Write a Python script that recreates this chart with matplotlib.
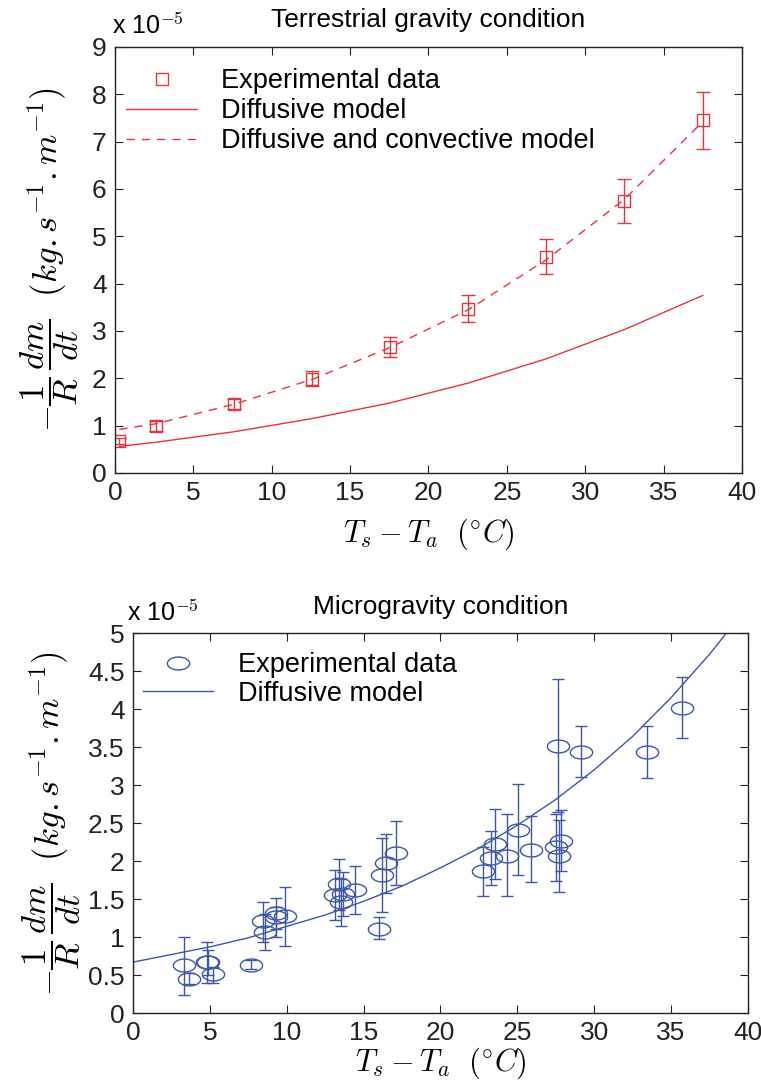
import numpy as np
import matplotlib
matplotlib.use("Agg")
import matplotlib.pyplot as plt
from matplotlib.path import Path
from matplotlib.lines import Line2D

plt.rcParams['font.family'] = ['Liberation Sans', 'DejaVu Sans']
plt.rcParams['mathtext.fontset'] = 'cm'

# terrestrial gravity (values in 1e-5 kg/s/m)
rx = [0.27, 2.63, 7.58, 12.6, 17.55, 22.55, 27.5, 32.5, 37.5]
ry = [0.68, 0.99, 1.46, 1.99, 2.67, 3.47, 4.57, 5.75, 7.45]
rerr = [0.06, 0.10, 0.11, 0.16, 0.21, 0.28, 0.37, 0.46, 0.60]
diff_model = [0.56, 0.65, 0.87, 1.15, 1.48, 1.90, 2.41, 3.03, 3.75]
conv_model = [0.92, 1.04, 1.45, 1.98, 2.65, 3.45, 4.50, 5.78, 7.42]

# microgravity
bx = [3.34, 3.66, 4.79, 4.85, 5.22, 7.65, 8.48, 8.61, 9.30, 9.30, 9.91,
      13.14, 13.40, 13.53, 13.66, 14.44, 16.02, 16.17, 16.43, 17.10,
      22.75, 23.31, 23.58, 24.34, 25.06, 25.89, 27.52, 27.63, 27.70, 27.85,
      29.16, 33.43, 35.72]
by = [0.63, 0.45, 0.67, 0.67, 0.51, 0.63, 1.21, 1.06, 1.32, 1.26, 1.28,
      1.55, 1.70, 1.46, 1.57, 1.62, 1.11, 1.82, 1.97, 2.11,
      1.87, 2.04, 2.22, 2.07, 2.41, 2.15, 2.18, 3.52, 2.07, 2.26,
      3.44, 3.43, 4.02]
blo = [0.24, 0.38, 0.39, 0.50, 0.40, 0.575, 0.94, 0.83, 1.00, 1.11, 0.88,
       1.22, 1.36, 1.15, 1.28, 1.30, 0.97, 1.33, 1.58, 1.68,
       1.54, 1.68, 1.76, 1.54, 1.82, 1.72, 1.74, 2.65, 1.59, 1.87,
       3.11, 3.09, 3.62]
bhi = [1.00, 0.53, 0.94, 0.83, 0.60, 0.70, 1.46, 1.30, 1.52, 1.40, 1.66,
       1.88, 2.03, 1.77, 1.86, 1.94, 1.27, 2.30, 2.36, 2.53,
       2.19, 2.40, 2.68, 2.62, 3.01, 2.59, 2.62, 4.39, 2.54, 2.67,
       3.78, 3.78, 4.42]
cx = [0, 2.5, 5, 7.5, 10, 12.5, 15, 17.5, 20, 22.5, 25, 27.5, 30, 32.5, 35, 37.5, 38.6]
cy = [0.67, 0.77, 0.87, 0.99, 1.14, 1.29, 1.47, 1.67, 1.91, 2.17, 2.47,
      2.81, 3.20, 3.64, 4.15, 4.72, 5.0]

red = '#e8333a'
blue = '#3c57a8'

ylab = r'$-\dfrac{1}{R}\,\dfrac{dm}{dt}\ \ (kg{.}s^{-1}{.}m^{-1})$'
xlab = r'$T_s - T_a\ \ (^{\circ}C)$'

# oval marker (the circles were stretched in the original)
t = np.linspace(0, 2*np.pi, 60)
oval = Path(np.column_stack([np.cos(t), 0.58*np.sin(t)]), closed=True)

fig = plt.figure(figsize=(7.61, 10.86), dpi=100)

def style(ax):
    ax.tick_params(direction='in', top=True, right=True, length=6,
                   width=0.8, labelsize=19, colors='#222222', pad=6)
    for s in ax.spines.values():
        s.set_linewidth(1.0)
        s.set_color('#222222')

ax1 = fig.add_axes([0.1511, 0.5645, 0.8239, 0.3923])
ax1.errorbar(rx, ry, yerr=rerr, fmt='none', ecolor=red, elinewidth=1.0,
             capsize=5, capthick=1.0)
ax1.plot(rx, ry, 's', ms=8, mfc='none', mec=red, mew=1.0)
ax1.plot(rx, diff_model, '-', color=red, lw=1.0)
ax1.plot(rx, conv_model, '--', color=red, lw=1.0, dashes=(6, 5))
ax1.set_xlim(0, 40)
ax1.set_ylim(0, 9)
ax1.set_xticks(range(0, 41, 5))
ax1.set_yticks(range(0, 10))
style(ax1)
ax1.set_title('Terrestrial gravity condition', fontsize=19, pad=14)
ax1.text(-0.005, 1.02, r'x 10$^{-5}$', transform=ax1.transAxes, fontsize=18,
         ha='left', va='bottom')
ax1.set_xlabel(xlab, fontsize=22, labelpad=8)
ax1.set_ylabel(ylab, fontsize=25, labelpad=8)
h1 = [Line2D([], [], ls='none', marker='s', ms=8, mfc='none', mec=red),
      Line2D([], [], color=red, lw=1.0),
      Line2D([], [], color=red, lw=1.0, ls='--', dashes=(6, 5))]
ax1.legend(h1, ['Experimental data', 'Diffusive model',
                'Diffusive and convective model'],
           loc='upper left', frameon=False, fontsize=19.5, handlelength=2.6,
           handletextpad=0.9, labelspacing=0.15, borderaxespad=0.3,
           bbox_to_anchor=(-0.012, 0.995))

ax2 = fig.add_axes([0.1748, 0.0672, 0.808, 0.3499])
yerr = [np.array(by) - np.array(blo), np.array(bhi) - np.array(by)]
ax2.errorbar(bx, by, yerr=yerr, fmt='none', ecolor=blue, elinewidth=1.0,
             capsize=4, capthick=1.0)
ax2.plot(bx, by, ls='none', marker=oval, ms=16, mfc='none', mec=blue, mew=1.0)
ax2.plot(cx, cy, '-', color=blue, lw=1.0)
ax2.set_xlim(0, 40)
ax2.set_ylim(0, 5)
ax2.set_xticks(range(0, 41, 5))
ax2.set_yticks(np.arange(0, 5.01, 0.5))
ax2.set_yticklabels(['0', '0.5', '1', '1.5', '2', '2.5', '3', '3.5', '4', '4.5', '5'])
style(ax2)
ax2.set_title('Microgravity condition', fontsize=19, pad=14)
ax2.text(-0.01, 1.02, r'x 10$^{-5}$', transform=ax2.transAxes, fontsize=18,
         ha='left', va='bottom')
ax2.set_xlabel(xlab, fontsize=22, labelpad=0)
ax2.set_ylabel(ylab, fontsize=25, labelpad=4)
h2 = [Line2D([], [], ls='none', marker=oval, ms=16, mfc='none', mec=blue),
      Line2D([], [], color=blue, lw=1.0)]
ax2.legend(h2, ['Experimental data', 'Diffusive model'],
           loc='upper left', frameon=False, fontsize=19.5, handlelength=2.6,
           handletextpad=0.9, labelspacing=0.1, borderaxespad=0.3,
           bbox_to_anchor=(-0.015, 1.0))

fig.savefig('out.png', dpi=100)
